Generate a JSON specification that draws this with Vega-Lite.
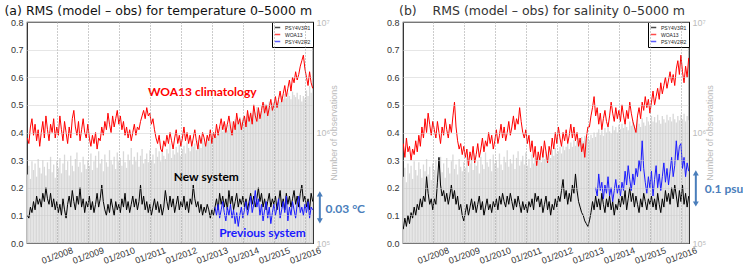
{
"$schema": "https://vega.github.io/schema/vega-lite/v6.json",
"background": "white",
"padding": {"left": 3, "top": 3, "right": 0, "bottom": 0},
"bounds": "flush",
"spacing": 90,
"config": {
  "font": "Liberation Sans",
  "view": {"stroke": "#222", "strokeWidth": 1.2},
  "axis": {"labelFontSize": 9, "labelColor": "#333", "ticks": false, "domain": false},
  "axisX": {"tickCount": 9, "labelOverlap": false}
},
"resolve": {"scale": {"color": "independent"}, "legend": {"color": "independent"}},
"datasets": {
"a": [
{"t":2007.05,"k":0.10,"r":0.38,"n":5.62},{"t":2007.1,"k":0.09,"r":0.36,"n":5.70},{"t":2007.15,"k":0.13,"r":0.42,"n":5.58},{"t":2007.2,"k":0.11,"r":0.45,"n":5.74},{"t":2007.25,"k":0.15,"r":0.39,"n":5.66},{"t":2007.3,"k":0.12,"r":0.43,"n":5.72},{"t":2007.35,"k":0.17,"r":0.37,"n":5.60},{"t":2007.4,"k":0.14,"r":0.41,"n":5.76},{"t":2007.45,"k":0.16,"r":0.35,"n":5.68},{"t":2007.5,"k":0.13,"r":0.40,"n":5.63},{"t":2007.55,"k":0.18,"r":0.44,"n":5.75},{"t":2007.6,"k":0.15,"r":0.38,"n":5.69},{"t":2007.65,"k":0.20,"r":0.46,"n":5.61},{"t":2007.7,"k":0.16,"r":0.41,"n":5.73},{"t":2007.75,"k":0.14,"r":0.37,"n":5.67},{"t":2007.8,"k":0.18,"r":0.43,"n":5.78},{"t":2007.85,"k":0.13,"r":0.40,"n":5.64},{"t":2007.9,"k":0.16,"r":0.45,"n":5.71},{"t":2007.95,"k":0.12,"r":0.38,"n":5.59},{"t":2008,"k":0.15,"r":0.42,"n":5.74},
{"t":2008.05,"k":0.11,"r":0.39,"n":5.68},{"t":2008.1,"k":0.14,"r":0.46,"n":5.77},{"t":2008.15,"k":0.10,"r":0.41,"n":5.63},{"t":2008.2,"k":0.16,"r":0.37,"n":5.72},{"t":2008.25,"k":0.12,"r":0.44,"n":5.80},{"t":2008.3,"k":0.09,"r":0.40,"n":5.66},{"t":2008.35,"k":0.14,"r":0.36,"n":5.74},{"t":2008.4,"k":0.17,"r":0.42,"n":5.61},{"t":2008.45,"k":0.13,"r":0.38,"n":5.79},{"t":2008.5,"k":0.19,"r":0.45,"n":5.70},{"t":2008.55,"k":0.15,"r":0.48,"n":5.65},{"t":2008.6,"k":0.12,"r":0.42,"n":5.76},{"t":2008.65,"k":0.17,"r":0.39,"n":5.82},{"t":2008.7,"k":0.14,"r":0.44,"n":5.69},{"t":2008.75,"k":0.20,"r":0.37,"n":5.73},{"t":2008.8,"k":0.13,"r":0.41,"n":5.64},{"t":2008.85,"k":0.16,"r":0.45,"n":5.78},{"t":2008.9,"k":0.11,"r":0.40,"n":5.71},{"t":2008.95,"k":0.15,"r":0.38,"n":5.67},{"t":2009,"k":0.13,"r":0.43,"n":5.75},
{"t":2009.05,"k":0.17,"r":0.38,"n":5.70},{"t":2009.1,"k":0.12,"r":0.35,"n":5.81},{"t":2009.15,"k":0.15,"r":0.39,"n":5.66},{"t":2009.2,"k":0.11,"r":0.36,"n":5.74},{"t":2009.25,"k":0.14,"r":0.40,"n":5.79},{"t":2009.3,"k":0.18,"r":0.34,"n":5.68},{"t":2009.35,"k":0.13,"r":0.38,"n":5.83},{"t":2009.4,"k":0.16,"r":0.37,"n":5.72},{"t":2009.45,"k":0.21,"r":0.42,"n":5.76},{"t":2009.5,"k":0.15,"r":0.39,"n":5.65},{"t":2009.55,"k":0.12,"r":0.44,"n":5.80},{"t":2009.6,"k":0.10,"r":0.41,"n":5.73},{"t":2009.65,"k":0.14,"r":0.47,"n":5.69},{"t":2009.7,"k":0.11,"r":0.43,"n":5.84},{"t":2009.75,"k":0.16,"r":0.40,"n":5.75},{"t":2009.8,"k":0.13,"r":0.46,"n":5.71},{"t":2009.85,"k":0.10,"r":0.42,"n":5.78},{"t":2009.9,"k":0.15,"r":0.45,"n":5.67},{"t":2009.95,"k":0.12,"r":0.48,"n":5.82},{"t":2010,"k":0.14,"r":0.43,"n":5.74},
{"t":2010.05,"k":0.11,"r":0.46,"n":5.77},{"t":2010.1,"k":0.16,"r":0.41,"n":5.70},{"t":2010.15,"k":0.13,"r":0.44,"n":5.83},{"t":2010.2,"k":0.18,"r":0.39,"n":5.73},{"t":2010.25,"k":0.12,"r":0.42,"n":5.68},{"t":2010.3,"k":0.15,"r":0.38,"n":5.80},{"t":2010.35,"k":0.11,"r":0.41,"n":5.75},{"t":2010.4,"k":0.14,"r":0.37,"n":5.86},{"t":2010.45,"k":0.17,"r":0.40,"n":5.71},{"t":2010.5,"k":0.13,"r":0.43,"n":5.78},{"t":2010.55,"k":0.16,"r":0.39,"n":5.74},{"t":2010.6,"k":0.12,"r":0.42,"n":5.82},{"t":2010.65,"k":0.15,"r":0.41,"n":5.69},{"t":2010.7,"k":0.21,"r":0.44,"n":5.79},{"t":2010.75,"k":0.14,"r":0.46,"n":5.85},{"t":2010.8,"k":0.17,"r":0.48,"n":5.72},{"t":2010.85,"k":0.12,"r":0.45,"n":5.76},{"t":2010.9,"k":0.15,"r":0.49,"n":5.81},{"t":2010.95,"k":0.11,"r":0.46,"n":5.73},{"t":2011,"k":0.14,"r":0.47,"n":5.84},
{"t":2011.05,"k":0.10,"r":0.43,"n":5.75},{"t":2011.1,"k":0.13,"r":0.45,"n":5.80},{"t":2011.15,"k":0.16,"r":0.41,"n":5.72},{"t":2011.2,"k":0.12,"r":0.38,"n":5.86},{"t":2011.25,"k":0.15,"r":0.36,"n":5.78},{"t":2011.3,"k":0.11,"r":0.39,"n":5.83},{"t":2011.35,"k":0.14,"r":0.34,"n":5.74},{"t":2011.4,"k":0.10,"r":0.33,"n":5.88},{"t":2011.45,"k":0.13,"r":0.37,"n":5.79},{"t":2011.5,"k":0.19,"r":0.35,"n":5.76},{"t":2011.55,"k":0.15,"r":0.39,"n":5.85},{"t":2011.6,"k":0.12,"r":0.36,"n":5.81},{"t":2011.65,"k":0.17,"r":0.40,"n":5.90},{"t":2011.7,"k":0.13,"r":0.37,"n":5.77},{"t":2011.75,"k":0.16,"r":0.34,"n":5.84},{"t":2011.8,"k":0.11,"r":0.38,"n":5.80},{"t":2011.85,"k":0.14,"r":0.41,"n":5.87},{"t":2011.9,"k":0.17,"r":0.36,"n":5.82},{"t":2011.95,"k":0.12,"r":0.39,"n":5.89},{"t":2012,"k":0.15,"r":0.35,"n":5.79},
{"t":2012.05,"k":0.13,"r":0.38,"n":5.85},{"t":2012.1,"k":0.17,"r":0.42,"n":5.88},{"t":2012.15,"k":0.12,"r":0.37,"n":5.81},{"t":2012.2,"k":0.15,"r":0.40,"n":5.91},{"t":2012.25,"k":0.11,"r":0.36,"n":5.86},{"t":2012.3,"k":0.16,"r":0.39,"n":5.83},{"t":2012.35,"k":0.14,"r":0.35,"n":5.92},{"t":2012.4,"k":0.21,"r":0.38,"n":5.87},{"t":2012.45,"k":0.16,"r":0.41,"n":5.90},{"t":2012.5,"k":0.13,"r":0.37,"n":5.84},{"t":2012.55,"k":0.15,"r":0.34,"n":5.93},{"t":2012.6,"k":0.11,"r":0.39,"n":5.89},{"t":2012.65,"k":0.14,"r":0.36,"n":5.86},{"t":2012.7,"k":0.10,"r":0.40,"n":5.95},{"t":2012.75,"k":0.13,"r":0.38,"n":5.91},{"t":2012.8,"k":0.11,"r":0.35,"n":5.88},{"t":2012.85,"k":0.14,"r":0.39,"n":5.96},{"t":2012.9,"k":0.12,"r":0.37,"n":5.92},{"t":2012.95,"k":0.09,"r":0.41,"n":5.94},{"t":2013,"k":0.12,"r":0.36,"n":5.97},
{"t":2013.05,"k":0.10,"r":0.40,"n":5.95},{"t":2013.1,"k":0.13,"r":0.38,"n":6.00,"b":0.13},{"t":2013.15,"k":0.16,"r":0.43,"n":5.97,"b":0.10},{"t":2013.2,"k":0.12,"r":0.39,"n":6.03,"b":0.14},{"t":2013.25,"k":0.18,"r":0.42,"n":5.99,"b":0.09},{"t":2013.3,"k":0.14,"r":0.45,"n":6.05,"b":0.12},{"t":2013.35,"k":0.17,"r":0.41,"n":6.01,"b":0.15},{"t":2013.4,"k":0.13,"r":0.44,"n":6.04,"b":0.11},{"t":2013.45,"k":0.16,"r":0.40,"n":6.08,"b":0.08},{"t":2013.5,"k":0.12,"r":0.43,"n":6.02,"b":0.13},{"t":2013.55,"k":0.19,"r":0.46,"n":6.07,"b":0.10},{"t":2013.6,"k":0.14,"r":0.42,"n":6.05,"b":0.14},{"t":2013.65,"k":0.17,"r":0.39,"n":6.10,"b":0.09},{"t":2013.7,"k":0.12,"r":0.44,"n":6.06,"b":0.12},{"t":2013.75,"k":0.15,"r":0.41,"n":6.12,"b":0.07},{"t":2013.8,"k":0.18,"r":0.47,"n":6.08,"b":0.11},{"t":2013.85,"k":0.13,"r":0.43,"n":6.11,"b":0.06},{"t":2013.9,"k":0.16,"r":0.45,"n":6.14,"b":0.10},{"t":2013.95,"k":0.14,"r":0.41,"n":6.09,"b":0.13},{"t":2014,"k":0.17,"r":0.44,"n":6.13,"b":0.09},
{"t":2014.05,"k":0.13,"r":0.46,"n":6.15,"b":0.12},{"t":2014.1,"k":0.16,"r":0.42,"n":6.11,"b":0.15},{"t":2014.15,"k":0.12,"r":0.48,"n":6.17,"b":0.10},{"t":2014.2,"k":0.15,"r":0.44,"n":6.14,"b":0.13},{"t":2014.25,"k":0.18,"r":0.47,"n":6.19,"b":0.17},{"t":2014.3,"k":0.14,"r":0.43,"n":6.16,"b":0.11},{"t":2014.35,"k":0.17,"r":0.50,"n":6.21,"b":0.14},{"t":2014.4,"k":0.13,"r":0.46,"n":6.18,"b":0.19},{"t":2014.45,"k":0.16,"r":0.44,"n":6.23,"b":0.13},{"t":2014.5,"k":0.20,"r":0.49,"n":6.20,"b":0.16},{"t":2014.55,"k":0.15,"r":0.45,"n":6.17,"b":0.10},{"t":2014.6,"k":0.18,"r":0.48,"n":6.24,"b":0.14},{"t":2014.65,"k":0.13,"r":0.51,"n":6.21,"b":0.08},{"t":2014.7,"k":0.16,"r":0.47,"n":6.26,"b":0.12},{"t":2014.75,"k":0.12,"r":0.50,"n":6.22,"b":0.15},{"t":2014.8,"k":0.15,"r":0.46,"n":6.25,"b":0.09},{"t":2014.85,"k":0.18,"r":0.49,"n":6.28,"b":0.13},{"t":2014.9,"k":0.13,"r":0.52,"n":6.23,"b":0.07},{"t":2014.95,"k":0.16,"r":0.48,"n":6.27,"b":0.11},{"t":2015,"k":0.14,"r":0.50,"n":6.25,"b":0.14},
{"t":2015.05,"k":0.17,"r":0.53,"n":6.29,"b":0.10},{"t":2015.1,"k":0.12,"r":0.49,"n":6.26,"b":0.13},{"t":2015.15,"k":0.15,"r":0.52,"n":6.31,"b":0.16},{"t":2015.2,"k":0.19,"r":0.55,"n":6.28,"b":0.09},{"t":2015.25,"k":0.13,"r":0.51,"n":6.33,"b":0.12},{"t":2015.3,"k":0.16,"r":0.54,"n":6.30,"b":0.15},{"t":2015.35,"k":0.12,"r":0.57,"n":6.35,"b":0.11},{"t":2015.4,"k":0.18,"r":0.53,"n":6.31,"b":0.17},{"t":2015.45,"k":0.14,"r":0.56,"n":6.36,"b":0.08},{"t":2015.5,"k":0.17,"r":0.59,"n":6.33,"b":0.13},{"t":2015.55,"k":0.13,"r":0.55,"n":6.30,"b":0.10},{"t":2015.6,"k":0.16,"r":0.60,"n":6.37,"b":0.15},{"t":2015.65,"k":0.19,"r":0.58,"n":6.34,"b":0.12},{"t":2015.7,"k":0.14,"r":0.62,"n":6.32,"b":0.09},{"t":2015.75,"k":0.17,"r":0.59,"n":6.36,"b":0.14},{"t":2015.8,"k":0.13,"r":0.61,"n":6.30,"b":0.17},{"t":2015.85,"k":0.18,"r":0.64,"n":6.34,"b":0.11},{"t":2015.9,"k":0.21,"r":0.66,"n":6.28,"b":0.13},{"t":2015.95,"k":0.15,"r":0.68,"n":6.33,"b":0.10},{"t":2016,"k":0.17,"r":0.63,"n":6.31,"b":0.14},
{"t":2016.05,"k":0.13,"r":0.60,"n":6.38,"b":0.11},{"t":2016.1,"k":0.16,"r":0.57,"n":6.33,"b":0.15},{"t":2016.15,"k":0.12,"r":0.62,"n":6.42,"b":0.09},{"t":2016.2,"k":0.18,"r":0.58,"n":6.36,"b":0.13},{"t":2016.25,"k":0.15,"r":0.56,"n":6.40,"b":0.12}
],
"b": [
{"t":2007.05,"k":0.05,"r":0.36,"n":5.60},{"t":2007.1,"k":0.09,"r":0.31,"n":5.68},{"t":2007.15,"k":0.06,"r":0.38,"n":5.55},{"t":2007.2,"k":0.10,"r":0.33,"n":5.72},{"t":2007.25,"k":0.07,"r":0.35,"n":5.63},{"t":2007.3,"k":0.11,"r":0.30,"n":5.70},{"t":2007.35,"k":0.09,"r":0.34,"n":5.58},{"t":2007.4,"k":0.13,"r":0.32,"n":5.74},{"t":2007.45,"k":0.10,"r":0.37,"n":5.66},{"t":2007.5,"k":0.14,"r":0.33,"n":5.61},{"t":2007.55,"k":0.12,"r":0.39,"n":5.73},{"t":2007.6,"k":0.16,"r":0.35,"n":5.67},{"t":2007.65,"k":0.13,"r":0.42,"n":5.59},{"t":2007.7,"k":0.17,"r":0.38,"n":5.71},{"t":2007.75,"k":0.15,"r":0.45,"n":5.65},{"t":2007.8,"k":0.24,"r":0.40,"n":5.76},{"t":2007.85,"k":0.18,"r":0.47,"n":5.62},{"t":2007.9,"k":0.14,"r":0.43,"n":5.69},{"t":2007.95,"k":0.16,"r":0.39,"n":5.57},{"t":2008,"k":0.12,"r":0.44,"n":5.72},
{"t":2008.05,"k":0.16,"r":0.41,"n":5.66},{"t":2008.1,"k":0.14,"r":0.38,"n":5.75},{"t":2008.15,"k":0.22,"r":0.44,"n":5.61},{"t":2008.2,"k":0.31,"r":0.40,"n":5.70},{"t":2008.25,"k":0.21,"r":0.36,"n":5.78},{"t":2008.3,"k":0.17,"r":0.42,"n":5.64},{"t":2008.35,"k":0.19,"r":0.39,"n":5.72},{"t":2008.4,"k":0.15,"r":0.45,"n":5.59},{"t":2008.45,"k":0.18,"r":0.41,"n":5.77},{"t":2008.5,"k":0.14,"r":0.38,"n":5.68},{"t":2008.55,"k":0.17,"r":0.43,"n":5.63},{"t":2008.6,"k":0.21,"r":0.40,"n":5.74},{"t":2008.65,"k":0.16,"r":0.46,"n":5.80},{"t":2008.7,"k":0.19,"r":0.51,"n":5.67},{"t":2008.75,"k":0.14,"r":0.42,"n":5.71},{"t":2008.8,"k":0.17,"r":0.37,"n":5.62},{"t":2008.85,"k":0.12,"r":0.34,"n":5.76},{"t":2008.9,"k":0.14,"r":0.36,"n":5.69},{"t":2008.95,"k":0.10,"r":0.32,"n":5.65},{"t":2009,"k":0.08,"r":0.35,"n":5.73},
{"t":2009.05,"k":0.11,"r":0.31,"n":5.68},{"t":2009.1,"k":0.14,"r":0.34,"n":5.79},{"t":2009.15,"k":0.10,"r":0.28,"n":5.64},{"t":2009.2,"k":0.13,"r":0.33,"n":5.72},{"t":2009.25,"k":0.16,"r":0.30,"n":5.77},{"t":2009.3,"k":0.12,"r":0.35,"n":5.66},{"t":2009.35,"k":0.15,"r":0.29,"n":5.81},{"t":2009.4,"k":0.11,"r":0.32,"n":5.70},{"t":2009.45,"k":0.14,"r":0.36,"n":5.74},{"t":2009.5,"k":0.17,"r":0.31,"n":5.63},{"t":2009.55,"k":0.12,"r":0.34,"n":5.78},{"t":2009.6,"k":0.15,"r":0.38,"n":5.71},{"t":2009.65,"k":0.10,"r":0.33,"n":5.67},{"t":2009.7,"k":0.13,"r":0.37,"n":5.82},{"t":2009.75,"k":0.16,"r":0.35,"n":5.73},{"t":2009.8,"k":0.12,"r":0.40,"n":5.69},{"t":2009.85,"k":0.14,"r":0.36,"n":5.76},{"t":2009.9,"k":0.11,"r":0.39,"n":5.65},{"t":2009.95,"k":0.15,"r":0.34,"n":5.80},{"t":2010,"k":0.13,"r":0.37,"n":5.72},
{"t":2010.05,"k":0.16,"r":0.41,"n":5.75},{"t":2010.1,"k":0.12,"r":0.36,"n":5.68},{"t":2010.15,"k":0.17,"r":0.39,"n":5.81},{"t":2010.2,"k":0.14,"r":0.43,"n":5.71},{"t":2010.25,"k":0.18,"r":0.38,"n":5.66},{"t":2010.3,"k":0.15,"r":0.42,"n":5.78},{"t":2010.35,"k":0.13,"r":0.37,"n":5.73},{"t":2010.4,"k":0.17,"r":0.40,"n":5.84},{"t":2010.45,"k":0.14,"r":0.44,"n":5.69},{"t":2010.5,"k":0.18,"r":0.39,"n":5.76},{"t":2010.55,"k":0.15,"r":0.42,"n":5.72},{"t":2010.6,"k":0.12,"r":0.46,"n":5.80},{"t":2010.65,"k":0.16,"r":0.41,"n":5.67},{"t":2010.7,"k":0.13,"r":0.45,"n":5.77},{"t":2010.75,"k":0.17,"r":0.43,"n":5.83},{"t":2010.8,"k":0.14,"r":0.49,"n":5.70},{"t":2010.85,"k":0.11,"r":0.44,"n":5.74},{"t":2010.9,"k":0.15,"r":0.40,"n":5.79},{"t":2010.95,"k":0.12,"r":0.38,"n":5.71},{"t":2011,"k":0.14,"r":0.41,"n":5.82},
{"t":2011.05,"k":0.11,"r":0.36,"n":5.70},{"t":2011.1,"k":0.15,"r":0.39,"n":5.76},{"t":2011.15,"k":0.13,"r":0.33,"n":5.68},{"t":2011.2,"k":0.16,"r":0.37,"n":5.80},{"t":2011.25,"k":0.12,"r":0.31,"n":5.72},{"t":2011.3,"k":0.18,"r":0.35,"n":5.77},{"t":2011.35,"k":0.15,"r":0.28,"n":5.70},{"t":2011.4,"k":0.17,"r":0.33,"n":5.82},{"t":2011.45,"k":0.13,"r":0.30,"n":5.75},{"t":2011.5,"k":0.16,"r":0.35,"n":5.73},{"t":2011.55,"k":0.11,"r":0.31,"n":5.80},{"t":2011.6,"k":0.14,"r":0.37,"n":5.76},{"t":2011.65,"k":0.17,"r":0.33,"n":5.83},{"t":2011.7,"k":0.12,"r":0.29,"n":5.74},{"t":2011.75,"k":0.15,"r":0.35,"n":5.81},{"t":2011.8,"k":0.10,"r":0.32,"n":5.77},{"t":2011.85,"k":0.14,"r":0.38,"n":5.84},{"t":2011.9,"k":0.12,"r":0.34,"n":5.79},{"t":2011.95,"k":0.16,"r":0.40,"n":5.86},{"t":2012,"k":0.13,"r":0.36,"n":5.81},
{"t":2012.05,"k":0.17,"r":0.42,"n":5.83},{"t":2012.1,"k":0.15,"r":0.38,"n":5.87},{"t":2012.15,"k":0.19,"r":0.35,"n":5.81},{"t":2012.2,"k":0.23,"r":0.40,"n":5.88},{"t":2012.25,"k":0.16,"r":0.37,"n":5.84},{"t":2012.3,"k":0.19,"r":0.41,"n":5.87},{"t":2012.35,"k":0.14,"r":0.36,"n":5.90},{"t":2012.4,"k":0.18,"r":0.39,"n":5.85},{"t":2012.45,"k":0.15,"r":0.43,"n":5.91},{"t":2012.5,"k":0.21,"r":0.38,"n":5.87},{"t":2012.55,"k":0.18,"r":0.42,"n":5.93},{"t":2012.6,"k":0.25,"r":0.37,"n":5.88},{"t":2012.65,"k":0.19,"r":0.40,"n":5.92},{"t":2012.7,"k":0.15,"r":0.35,"n":5.95},{"t":2012.75,"k":0.13,"r":0.38,"n":5.90},{"t":2012.8,"k":0.11,"r":0.33,"n":5.96},{"t":2012.85,"k":0.10,"r":0.36,"n":5.92},{"t":2012.9,"k":0.08,"r":0.31,"n":5.97},{"t":2012.95,"k":0.07,"r":0.38,"n":5.94},{"t":2013,"k":0.06,"r":0.42,"n":5.96},
{"t":2013.05,"k":0.08,"r":0.42,"n":5.93},{"t":2013.1,"k":0.11,"r":0.46,"n":5.98},{"t":2013.15,"k":0.15,"r":0.49,"n":5.95},{"t":2013.2,"k":0.12,"r":0.53,"n":6.00},{"t":2013.25,"k":0.17,"r":0.46,"n":5.96,"b":0.20},{"t":2013.3,"k":0.13,"r":0.49,"n":6.00,"b":0.17},{"t":2013.35,"k":0.16,"r":0.43,"n":6.03,"b":0.25},{"t":2013.4,"k":0.12,"r":0.47,"n":5.98,"b":0.19},{"t":2013.45,"k":0.18,"r":0.41,"n":6.02,"b":0.22},{"t":2013.5,"k":0.14,"r":0.45,"n":5.97,"b":0.16},{"t":2013.55,"k":0.11,"r":0.48,"n":6.04,"b":0.21},{"t":2013.6,"k":0.16,"r":0.44,"n":6.00,"b":0.18},{"t":2013.65,"k":0.13,"r":0.42,"n":6.05,"b":0.24},{"t":2013.7,"k":0.17,"r":0.46,"n":6.01,"b":0.17},{"t":2013.75,"k":0.12,"r":0.51,"n":5.99,"b":0.20},{"t":2013.8,"k":0.15,"r":0.47,"n":6.06,"b":0.15},{"t":2013.85,"k":0.10,"r":0.44,"n":6.02,"b":0.19},{"t":2013.9,"k":0.14,"r":0.49,"n":6.05,"b":0.23},{"t":2013.95,"k":0.12,"r":0.45,"n":6.00,"b":0.18},{"t":2014,"k":0.16,"r":0.48,"n":6.07,"b":0.21},
{"t":2014.05,"k":0.13,"r":0.44,"n":6.03,"b":0.17},{"t":2014.1,"k":0.17,"r":0.50,"n":6.08,"b":0.22},{"t":2014.15,"k":0.14,"r":0.46,"n":6.04,"b":0.19},{"t":2014.2,"k":0.19,"r":0.43,"n":6.09,"b":0.26},{"t":2014.25,"k":0.12,"r":0.48,"n":6.05,"b":0.21},{"t":2014.3,"k":0.16,"r":0.45,"n":6.02,"b":0.28},{"t":2014.35,"k":0.20,"r":0.51,"n":6.10,"b":0.23},{"t":2014.4,"k":0.15,"r":0.47,"n":6.06,"b":0.19},{"t":2014.45,"k":0.18,"r":0.44,"n":6.11,"b":0.25},{"t":2014.5,"k":0.13,"r":0.42,"n":6.07,"b":0.21},{"t":2014.55,"k":0.17,"r":0.40,"n":6.04,"b":0.27},{"t":2014.6,"k":0.14,"r":0.46,"n":6.12,"b":0.24},{"t":2014.65,"k":0.11,"r":0.49,"n":6.08,"b":0.30},{"t":2014.7,"k":0.16,"r":0.45,"n":6.05,"b":0.26},{"t":2014.75,"k":0.13,"r":0.51,"n":6.13,"b":0.37},{"t":2014.8,"k":0.18,"r":0.48,"n":6.09,"b":0.27},{"t":2014.85,"k":0.15,"r":0.53,"n":6.06,"b":0.22},{"t":2014.9,"k":0.12,"r":0.49,"n":6.14,"b":0.18},{"t":2014.95,"k":0.16,"r":0.52,"n":6.10,"b":0.24},{"t":2015,"k":0.14,"r":0.47,"n":6.07,"b":0.20},
{"t":2015.05,"k":0.17,"r":0.51,"n":6.15,"b":0.26},{"t":2015.1,"k":0.13,"r":0.55,"n":6.10,"b":0.17},{"t":2015.15,"k":0.16,"r":0.50,"n":6.14,"b":0.23},{"t":2015.2,"k":0.12,"r":0.53,"n":6.09,"b":0.28},{"t":2015.25,"k":0.18,"r":0.56,"n":6.16,"b":0.20},{"t":2015.3,"k":0.14,"r":0.52,"n":6.11,"b":0.25},{"t":2015.35,"k":0.11,"r":0.58,"n":6.08,"b":0.19},{"t":2015.4,"k":0.16,"r":0.54,"n":6.15,"b":0.24},{"t":2015.45,"k":0.13,"r":0.57,"n":6.12,"b":0.29},{"t":2015.5,"k":0.19,"r":0.60,"n":6.09,"b":0.22},{"t":2015.55,"k":0.15,"r":0.56,"n":6.16,"b":0.27},{"t":2015.6,"k":0.18,"r":0.59,"n":6.11,"b":0.21},{"t":2015.65,"k":0.14,"r":0.62,"n":6.14,"b":0.26},{"t":2015.7,"k":0.20,"r":0.58,"n":6.10,"b":0.31},{"t":2015.75,"k":0.16,"r":0.61,"n":6.17,"b":0.24},{"t":2015.8,"k":0.21,"r":0.57,"n":6.12,"b":0.28},{"t":2015.85,"k":0.17,"r":0.63,"n":6.09,"b":0.37},{"t":2015.9,"k":0.13,"r":0.66,"n":6.15,"b":0.30},{"t":2015.95,"k":0.19,"r":0.61,"n":6.11,"b":0.35},{"t":2016,"k":0.15,"r":0.68,"n":6.16,"b":0.36},
{"t":2016.05,"k":0.21,"r":0.62,"n":6.12,"b":0.27},{"t":2016.1,"k":0.14,"r":0.58,"n":6.17,"b":0.31},{"t":2016.15,"k":0.18,"r":0.64,"n":6.10,"b":0.24},{"t":2016.2,"k":0.13,"r":0.60,"n":6.15,"b":0.29},{"t":2016.25,"k":0.17,"r":0.67,"n":6.11,"b":0.26}
],
"notesA": [
{"label":"WOA13 climatology","s":"r","t":2012.69,"v":0.547},
{"label":"New system","s":"k","t":2012.82,"v":0.239},
{"label":"Previous system","s":"b","t":2014.63,"v":0.036},
{"label":"0.03 °C","s":"n","t":2017.3,"v":0.123}
],
"notesB": [
{"label":"0.1 psu","s":"n","t":2017.39,"v":0.196}
],
"arrowA": [{"t":2016.48,"lo":0.08,"hi":0.178}],
"arrowB": [{"t":2016.48,"lo":0.141,"hi":0.254}]
},
"hconcat": [
{
"width": 286, "height": 221,
"title": {"text": "(a) RMS (model – obs) for temperature 0–5000 m", "anchor": "start", "frame": "bounds", "font": "DejaVu Sans", "fontSize": 12.5, "fontWeight": "normal", "color": "#111", "offset": 1, "dx": -6},
"resolve": {"scale": {"y": "independent"}},
"layer": [
{"data": {"name": "a"}, "mark": {"type": "rule", "color": "#d8d8d8", "strokeWidth": 1.3, "clip": true},
 "encoding": {
  "x": {"field": "t", "type": "quantitative", "scale": {"domain": [2007.04, 2016.26], "nice": false, "zero": false},
        "axis": {"values": [2008,2009,2010,2011,2012,2013,2014,2015,2016], "tickCount": 9, "labelExpr": "'01/' + datum.value", "labelAngle": -20, "labelAlign": "center", "labelBaseline": "middle", "labelPadding": 12, "labelOverlap": false, "labelFlush": false, "grid": true, "gridDash": [1,2], "gridColor": "#999", "zindex": 1, "title": null}},
  "y": {"field": "n", "type": "quantitative", "scale": {"domain": [5, 7], "nice": false, "zero": false},
        "axis": {"orient": "right", "values": [5,6,7], "labelExpr": "datum.value == 5 ? '10⁵' : datum.value == 6 ? '10⁶' : '10⁷'", "labelColor": "#bbb", "labelFontSize": 9, "labelPadding": 3, "grid": false, "title": "Number of observations", "titleColor": "#bbb", "titleFontSize": 9, "titleFontWeight": "normal", "titleAngle": 270, "titlePadding": 9}},
  "y2": {"datum": 5}
 }},
{"data": {"name": "a"}, "transform": [{"fold": ["k","r","b"], "as": ["s","v"]}, {"filter": "isValid(datum.v)"}],
 "mark": {"type": "line", "strokeWidth": 1, "clip": true},
 "encoding": {
  "x": {"field": "t", "type": "quantitative", "scale": {"domain": [2007.04, 2016.26], "nice": false, "zero": false},
        "axis": {"values": [2008,2009,2010,2011,2012,2013,2014,2015,2016], "tickCount": 9, "labelExpr": "'01/' + datum.value", "labelAngle": -20, "labelAlign": "center", "labelBaseline": "middle", "labelPadding": 12, "labelOverlap": false, "labelFlush": false, "grid": true, "gridDash": [1,2], "gridColor": "#999", "zindex": 1, "title": null}},
  "y": {"field": "v", "type": "quantitative", "scale": {"domain": [0, 0.8], "nice": false},
        "axis": {"orient": "left", "values": [0,0.1,0.2,0.3,0.4,0.5,0.6,0.7,0.8], "format": ".1f", "labelPadding": 4, "grid": true, "gridColor": "#ccc", "gridDash": [1,1], "zindex": 1, "title": null}},
  "color": {"field": "s", "type": "nominal", "scale": {"domain": ["k","r","b","n"], "range": ["#000000","#ff0000","#1a1aff","#4a7ebb"]},
        "legend": {"orient": "top-right", "offset": 0, "values": ["k","r","b"], "labelExpr": "datum.value == 'k' ? 'PSY4V3R1' : datum.value == 'r' ? 'WOA13' : 'PSY4V2R2'", "title": null, "symbolType": "stroke", "symbolSize": 30, "symbolStrokeWidth": 1.5, "symbolOpacity": 0.7, "labelFontSize": 5, "labelColor": "#222", "labelOffset": 4, "strokeColor": "#000", "fillColor": "#fff", "padding": 2, "rowPadding": 0}}
 }},
{"data": {"name": "notesA"}, "mark": {"type": "text", "font": "Lato", "fontWeight": "bold", "fontSize": 12, "align": "center", "baseline": "middle"},
 "encoding": {
  "x": {"field": "t", "type": "quantitative", "scale": {"domain": [2007.04, 2016.26], "nice": false, "zero": false},
        "axis": {"values": [2008,2009,2010,2011,2012,2013,2014,2015,2016], "tickCount": 9, "labelExpr": "'01/' + datum.value", "labelAngle": -20, "labelAlign": "center", "labelBaseline": "middle", "labelPadding": 12, "labelOverlap": false, "labelFlush": false, "grid": true, "gridDash": [1,2], "gridColor": "#999", "zindex": 1, "title": null}},
  "y": {"field": "v", "type": "quantitative", "scale": {"domain": [0, 0.8], "nice": false}, "axis": null},
  "text": {"field": "label"},
  "color": {"field": "s", "type": "nominal"}
 }},
{"data": {"name": "arrowA"}, "mark": {"type": "rule", "color": "#4a7ebb", "strokeWidth": 2},
 "encoding": {
  "x": {"field": "t", "type": "quantitative", "scale": {"domain": [2007.04, 2016.26], "nice": false, "zero": false},
        "axis": {"values": [2008,2009,2010,2011,2012,2013,2014,2015,2016], "tickCount": 9, "labelExpr": "'01/' + datum.value", "labelAngle": -20, "labelAlign": "center", "labelBaseline": "middle", "labelPadding": 12, "labelOverlap": false, "labelFlush": false, "grid": true, "gridDash": [1,2], "gridColor": "#999", "zindex": 1, "title": null}},
  "y": {"field": "lo", "type": "quantitative", "scale": {"domain": [0, 0.8], "nice": false}, "axis": null},
  "y2": {"field": "hi"}
 }},
{"data": {"name": "arrowA"}, "mark": {"type": "point", "shape": "triangle-up", "filled": true, "color": "#4a7ebb", "size": 35, "opacity": 1},
 "encoding": {
  "x": {"field": "t", "type": "quantitative", "scale": {"domain": [2007.04, 2016.26], "nice": false, "zero": false},
        "axis": {"values": [2008,2009,2010,2011,2012,2013,2014,2015,2016], "tickCount": 9, "labelExpr": "'01/' + datum.value", "labelAngle": -20, "labelAlign": "center", "labelBaseline": "middle", "labelPadding": 12, "labelOverlap": false, "labelFlush": false, "grid": true, "gridDash": [1,2], "gridColor": "#999", "zindex": 1, "title": null}},
  "y": {"field": "hi", "type": "quantitative", "scale": {"domain": [0, 0.8], "nice": false}, "axis": null}
 }},
{"data": {"name": "arrowA"}, "mark": {"type": "point", "shape": "triangle-down", "filled": true, "color": "#4a7ebb", "size": 35, "opacity": 1},
 "encoding": {
  "x": {"field": "t", "type": "quantitative", "scale": {"domain": [2007.04, 2016.26], "nice": false, "zero": false},
        "axis": {"values": [2008,2009,2010,2011,2012,2013,2014,2015,2016], "tickCount": 9, "labelExpr": "'01/' + datum.value", "labelAngle": -20, "labelAlign": "center", "labelBaseline": "middle", "labelPadding": 12, "labelOverlap": false, "labelFlush": false, "grid": true, "gridDash": [1,2], "gridColor": "#999", "zindex": 1, "title": null}},
  "y": {"field": "lo", "type": "quantitative", "scale": {"domain": [0, 0.8], "nice": false}, "axis": null}
 }}
]
},
{
"width": 286, "height": 221,
"title": {"text": "(b)\u00a0\u00a0\u00a0\u00a0RMS (model – obs) for salinity 0–5000 m", "anchor": "start", "frame": "group", "font": "DejaVu Sans", "fontSize": 12.5, "fontWeight": "normal", "color": "#333", "offset": 1, "dx": -4},
"resolve": {"scale": {"y": "independent"}},
"layer": [
{"data": {"name": "b"}, "mark": {"type": "rule", "color": "#d8d8d8", "strokeWidth": 1.3, "clip": true},
 "encoding": {
  "x": {"field": "t", "type": "quantitative", "scale": {"domain": [2007.04, 2016.26], "nice": false, "zero": false},
        "axis": {"values": [2008,2009,2010,2011,2012,2013,2014,2015,2016], "tickCount": 9, "labelExpr": "'01/' + datum.value", "labelAngle": -20, "labelAlign": "center", "labelBaseline": "middle", "labelPadding": 12, "labelOverlap": false, "labelFlush": false, "grid": true, "gridDash": [1,2], "gridColor": "#999", "zindex": 1, "title": null}},
  "y": {"field": "n", "type": "quantitative", "scale": {"domain": [5, 7], "nice": false, "zero": false},
        "axis": {"orient": "right", "values": [5,6,7], "labelExpr": "datum.value == 5 ? '10⁵' : datum.value == 6 ? '10⁶' : '10⁷'", "labelColor": "#bbb", "labelFontSize": 9, "labelPadding": 3, "grid": false, "title": "Number of observations", "titleColor": "#bbb", "titleFontSize": 9, "titleFontWeight": "normal", "titleAngle": 270, "titlePadding": 9}},
  "y2": {"datum": 5}
 }},
{"data": {"name": "b"}, "transform": [{"fold": ["k","r","b"], "as": ["s","v"]}, {"filter": "isValid(datum.v)"}],
 "mark": {"type": "line", "strokeWidth": 1, "clip": true},
 "encoding": {
  "x": {"field": "t", "type": "quantitative", "scale": {"domain": [2007.04, 2016.26], "nice": false, "zero": false},
        "axis": {"values": [2008,2009,2010,2011,2012,2013,2014,2015,2016], "tickCount": 9, "labelExpr": "'01/' + datum.value", "labelAngle": -20, "labelAlign": "center", "labelBaseline": "middle", "labelPadding": 12, "labelOverlap": false, "labelFlush": false, "grid": true, "gridDash": [1,2], "gridColor": "#999", "zindex": 1, "title": null}},
  "y": {"field": "v", "type": "quantitative", "scale": {"domain": [0, 0.8], "nice": false},
        "axis": {"orient": "left", "values": [0,0.1,0.2,0.3,0.4,0.5,0.6,0.7,0.8], "format": ".1f", "labelPadding": 4, "grid": true, "gridColor": "#ccc", "gridDash": [1,1], "zindex": 1, "title": null}},
  "color": {"field": "s", "type": "nominal", "scale": {"domain": ["k","r","b","n"], "range": ["#000000","#ff0000","#1a1aff","#4a7ebb"]},
        "legend": {"orient": "top-right", "offset": 0, "values": ["k","r","b"], "labelExpr": "datum.value == 'k' ? 'PSY4V3R1' : datum.value == 'r' ? 'WOA13' : 'PSY4V2R2'", "title": null, "symbolType": "stroke", "symbolSize": 30, "symbolStrokeWidth": 1.5, "symbolOpacity": 0.7, "labelFontSize": 5, "labelColor": "#222", "labelOffset": 4, "strokeColor": "#000", "fillColor": "#fff", "padding": 2, "rowPadding": 0}}
 }},
{"data": {"name": "notesB"}, "mark": {"type": "text", "font": "Lato", "fontWeight": "bold", "fontSize": 12, "align": "center", "baseline": "middle"},
 "encoding": {
  "x": {"field": "t", "type": "quantitative", "scale": {"domain": [2007.04, 2016.26], "nice": false, "zero": false},
        "axis": {"values": [2008,2009,2010,2011,2012,2013,2014,2015,2016], "tickCount": 9, "labelExpr": "'01/' + datum.value", "labelAngle": -20, "labelAlign": "center", "labelBaseline": "middle", "labelPadding": 12, "labelOverlap": false, "labelFlush": false, "grid": true, "gridDash": [1,2], "gridColor": "#999", "zindex": 1, "title": null}},
  "y": {"field": "v", "type": "quantitative", "scale": {"domain": [0, 0.8], "nice": false}, "axis": null},
  "text": {"field": "label"},
  "color": {"field": "s", "type": "nominal"}
 }},
{"data": {"name": "arrowB"}, "mark": {"type": "rule", "color": "#4a7ebb", "strokeWidth": 2},
 "encoding": {
  "x": {"field": "t", "type": "quantitative", "scale": {"domain": [2007.04, 2016.26], "nice": false, "zero": false},
        "axis": {"values": [2008,2009,2010,2011,2012,2013,2014,2015,2016], "tickCount": 9, "labelExpr": "'01/' + datum.value", "labelAngle": -20, "labelAlign": "center", "labelBaseline": "middle", "labelPadding": 12, "labelOverlap": false, "labelFlush": false, "grid": true, "gridDash": [1,2], "gridColor": "#999", "zindex": 1, "title": null}},
  "y": {"field": "lo", "type": "quantitative", "scale": {"domain": [0, 0.8], "nice": false}, "axis": null},
  "y2": {"field": "hi"}
 }},
{"data": {"name": "arrowB"}, "mark": {"type": "point", "shape": "triangle-up", "filled": true, "color": "#4a7ebb", "size": 35, "opacity": 1},
 "encoding": {
  "x": {"field": "t", "type": "quantitative", "scale": {"domain": [2007.04, 2016.26], "nice": false, "zero": false},
        "axis": {"values": [2008,2009,2010,2011,2012,2013,2014,2015,2016], "tickCount": 9, "labelExpr": "'01/' + datum.value", "labelAngle": -20, "labelAlign": "center", "labelBaseline": "middle", "labelPadding": 12, "labelOverlap": false, "labelFlush": false, "grid": true, "gridDash": [1,2], "gridColor": "#999", "zindex": 1, "title": null}},
  "y": {"field": "hi", "type": "quantitative", "scale": {"domain": [0, 0.8], "nice": false}, "axis": null}
 }},
{"data": {"name": "arrowB"}, "mark": {"type": "point", "shape": "triangle-down", "filled": true, "color": "#4a7ebb", "size": 35, "opacity": 1},
 "encoding": {
  "x": {"field": "t", "type": "quantitative", "scale": {"domain": [2007.04, 2016.26], "nice": false, "zero": false},
        "axis": {"values": [2008,2009,2010,2011,2012,2013,2014,2015,2016], "tickCount": 9, "labelExpr": "'01/' + datum.value", "labelAngle": -20, "labelAlign": "center", "labelBaseline": "middle", "labelPadding": 12, "labelOverlap": false, "labelFlush": false, "grid": true, "gridDash": [1,2], "gridColor": "#999", "zindex": 1, "title": null}},
  "y": {"field": "lo", "type": "quantitative", "scale": {"domain": [0, 0.8], "nice": false}, "axis": null}
 }}
]
}
]
}
